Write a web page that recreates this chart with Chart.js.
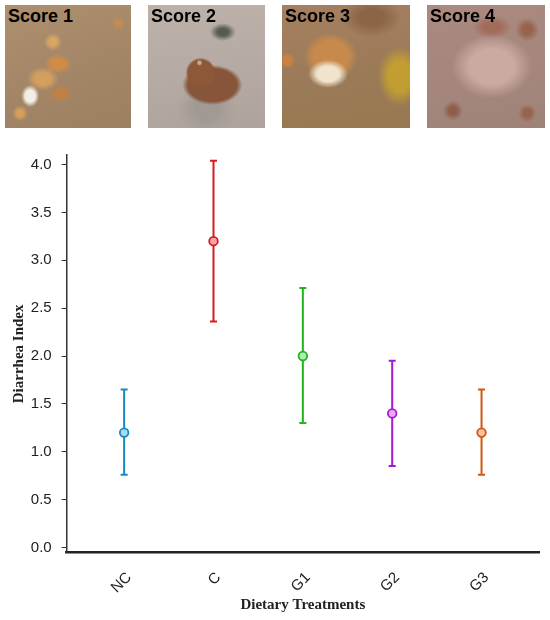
<!DOCTYPE html>
<html>
<head>
<meta charset="utf-8">
<script src="https://cdn.jsdelivr.net/npm/chart.js@4.4.0/dist/chart.umd.min.js"></script>
<style>
html,body{margin:0;padding:0;background:#fff;}
#wrap{position:relative;width:550px;height:620px;overflow:hidden;}
#c{position:absolute;left:0;top:0;}
.ph{position:absolute;top:5px;height:123px;z-index:2;}
.ph span{position:absolute;left:3px;top:1px;font:bold 18px "Liberation Sans",Arial,sans-serif;color:#000;}
#p1{left:5px;width:126px;background:
  radial-gradient(ellipse 9px 11px at 20% 74%, #f2eee6 55%, rgba(242,238,230,0) 100%),
  radial-gradient(ellipse 16px 12px at 30% 60%, rgba(214,160,96,0.95) 50%, rgba(214,160,96,0) 100%),
  radial-gradient(ellipse 14px 10px at 42% 48%, rgba(210,140,70,0.95) 50%, rgba(210,140,70,0) 100%),
  radial-gradient(ellipse 12px 9px at 44% 72%, rgba(196,128,64,0.9) 45%, rgba(196,128,64,0) 100%),
  radial-gradient(circle 9px at 38% 30%, rgba(220,170,100,0.9) 40%, rgba(220,170,100,0) 100%),
  radial-gradient(circle 8px at 12% 88%, rgba(220,160,90,0.9) 40%, rgba(220,160,90,0) 100%),
  radial-gradient(circle 7px at 90% 15%, rgba(200,140,80,0.8) 40%, rgba(200,140,80,0) 100%),
  linear-gradient(160deg, #ae9070, #a28566 60%, #9c8062);}
#p2{left:148px;width:117px;background:
  radial-gradient(circle 3px at 44% 47%, #c9a890 50%, rgba(201,168,144,0) 100%),
  radial-gradient(circle 15px at 45% 55%, #8c5838 85%, rgba(140,88,56,0) 100%),
  radial-gradient(ellipse 30px 20px at 55% 65%, #87553a 82%, rgba(135,85,58,0) 100%),
  radial-gradient(ellipse 13px 9px at 64% 22%, rgba(60,70,55,0.8) 40%, rgba(60,70,55,0) 100%),
  radial-gradient(ellipse 30px 25px at 50% 85%, rgba(150,145,140,0.6) 40%, rgba(150,145,140,0) 100%),
  linear-gradient(170deg, #bdb2aa, #b5aaa3 60%, #aea39c);}
#p3{left:282px;width:128px;background:
  radial-gradient(ellipse 20px 14px at 36% 56%, #f1e4cf 55%, rgba(241,228,207,0) 100%),
  radial-gradient(ellipse 27px 24px at 38% 42%, #c88a4c 65%, rgba(200,138,76,0) 100%),
  radial-gradient(ellipse 22px 30px at 92% 58%, rgba(196,160,48,0.95) 50%, rgba(196,160,48,0) 100%),
  radial-gradient(circle 8px at 4% 45%, rgba(205,130,60,0.9) 50%, rgba(205,130,60,0) 100%),
  radial-gradient(ellipse 30px 20px at 70% 10%, rgba(130,90,60,0.7) 40%, rgba(130,90,60,0) 100%),
  linear-gradient(170deg, #a58060, #9b7a58 60%, #98784f);}
#p4{left:427px;width:118px;background:
  radial-gradient(ellipse 40px 32px at 55% 50%, rgba(205,172,164,0.95) 55%, rgba(205,172,164,0) 100%),
  radial-gradient(circle 10px at 22% 86%, rgba(140,90,70,0.9) 40%, rgba(140,90,70,0) 100%),
  radial-gradient(circle 12px at 85% 20%, rgba(150,95,70,0.9) 40%, rgba(150,95,70,0) 100%),
  radial-gradient(circle 9px at 85% 88%, rgba(150,95,70,0.9) 40%, rgba(150,95,70,0) 100%),
  radial-gradient(ellipse 20px 12px at 55% 18%, rgba(160,100,80,0.8) 40%, rgba(160,100,80,0) 100%),
  linear-gradient(170deg, #ab8a80, #a4867c 60%, #9e8278);}
</style>
</head>
<body>
<div id="wrap">
  <div class="ph" id="p1"><span>Score 1</span></div>
  <div class="ph" id="p2"><span>Score 2</span></div>
  <div class="ph" id="p3"><span>Score 3</span></div>
  <div class="ph" id="p4"><span>Score 4</span></div>
  <canvas id="c" width="550" height="620"></canvas>
</div>
<script>
// ---- data ----
const categories = ['NC', 'C', 'G1', 'G2', 'G3'];
const means = [1.2, 3.2, 2.0, 1.4, 1.2];
const lowerBounds = [0.76, 2.36, 1.30, 0.85, 0.76];
const upperBounds = [1.65, 4.04, 2.71, 1.95, 1.65];
const yTickValues = [0.0, 0.5, 1.0, 1.5, 2.0, 2.5, 3.0, 3.5, 4.0];
const xTitle = 'Dietary Treatments';
const yTitle = 'Diarrhea Index';

// ---- styles ----
const lineColors = ['#1a87c3', '#d81b1b', '#1fb51f', '#a21bd0', '#d2560f'];
const fillColors = ['#a6dcf3', '#f5a3aa', '#b4ebb4', '#eca6f5', '#f9c3a2'];
const tickFont = {family: '"Liberation Sans", Arial, sans-serif', size: 15};
const titleFont = {family: '"Liberation Serif", "Times New Roman", serif', size: 15, weight: 'bold'};

const errorBars = {
  id: 'errorBars',
  beforeDatasetsDraw(chart) {
    const {ctx, scales: {x, y}} = chart;
    ctx.save();
    ctx.lineWidth = 2;
    categories.forEach((c, i) => {
      const px = x.getPixelForValue(i);
      const yl = y.getPixelForValue(lowerBounds[i]);
      const yu = y.getPixelForValue(upperBounds[i]);
      ctx.strokeStyle = lineColors[i];
      ctx.beginPath();
      ctx.moveTo(px, yl); ctx.lineTo(px, yu);
      ctx.moveTo(px - 3.5, yl); ctx.lineTo(px + 3.5, yl);
      ctx.moveTo(px - 3.5, yu); ctx.lineTo(px + 3.5, yu);
      ctx.stroke();
    });
    ctx.restore();
  }
};

new Chart(document.getElementById('c'), {
  type: 'scatter',
  data: {
    datasets: [{
      data: categories.map((c, i) => ({x: i, y: means[i]})),
      pointRadius: 4.3,
      pointHoverRadius: 4.3,
      pointBorderWidth: 1.8,
      pointBackgroundColor: fillColors,
      pointBorderColor: lineColors,
      showLine: false
    }]
  },
  options: {
    responsive: false,
    animation: false,
    layout: {padding: {top: 155, right: 11, left: 0, bottom: 0}},
    plugins: {legend: {display: false}, tooltip: {enabled: false}},
    scales: {
      x: {
        type: 'linear',
        min: -0.643,
        max: 4.643,
        afterBuildTicks: s => { s.ticks = categories.map((c, i) => ({value: i})); },
        afterFit: s => { s.height = 67.3; },
        ticks: {
          callback: v => categories[v],
          maxRotation: 45,
          minRotation: 45,
          font: tickFont,
          color: '#222',
          padding: 16,
          labelOffset: 5
        },
        grid: {display: true, drawOnChartArea: false, drawTicks: false},
        border: {display: true, color: '#222', width: 2.5},
        title: {display: true, text: xTitle, font: titleFont, color: '#222', padding: {top: 0, bottom: 6}}
      },
      y: {
        type: 'linear',
        min: -0.055,
        max: 4.1,
        afterBuildTicks: s => { s.ticks = yTickValues.map(v => ({value: v})); },
        afterFit: s => { s.width = 66.7; },
        ticks: {
          callback: v => v.toFixed(1),
          font: tickFont,
          color: '#222',
          padding: 10
        },
        grid: {display: true, drawOnChartArea: false, drawTicks: true, tickLength: 5, tickColor: '#333', tickWidth: 1},
        border: {display: true, color: '#333', width: 1.5},
        title: {display: true, text: yTitle, font: titleFont, color: '#222', padding: {top: 10, bottom: 0}}
      }
    }
  },
  plugins: [errorBars]
});
</script>
</body>
</html>
